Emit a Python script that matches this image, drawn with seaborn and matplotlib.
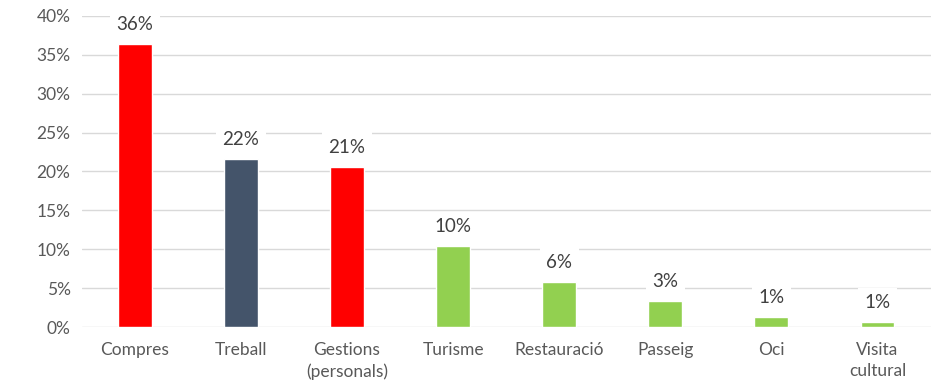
import pandas as pd
import matplotlib.pyplot as plt
import seaborn as sns
from matplotlib.ticker import FuncFormatter

# ---- dades ----
categories = ["Compres", "Treball", "Gestions\n(personals)", "Turisme",
              "Restauració", "Passeig", "Oci", "Visita\ncultural"]
values = [36.4, 21.6, 20.6, 10.4, 5.8, 3.3, 1.3, 0.6]
labels = ["36%", "22%", "21%", "10%", "6%", "3%", "1%", "1%"]
colors = ["#FF0000", "#44546A", "#FF0000", "#92D050",
          "#92D050", "#92D050", "#92D050", "#92D050"]

df = pd.DataFrame({"cat": categories, "val": values})

sns.set_theme(style="white")
plt.rcParams["font.family"] = ["Lato", "DejaVu Sans"]

fig = plt.figure(figsize=(9.39, 3.88), dpi=100)
ax = fig.add_axes([0.087, 0.157, 0.904, 0.802])

sns.barplot(data=df, x="cat", y="val", hue="cat", palette=colors,
            legend=False, width=0.32, saturation=1, ax=ax)

ax.set_ylim(0, 40)
ax.set_yticks(range(0, 41, 5))
ax.yaxis.set_major_formatter(FuncFormatter(lambda v, _: f"{v:.0f}%"))
ax.set_xlim(-0.5, len(categories) - 0.5)
ax.grid(axis="y", color="#d9d9d9", linewidth=1)
ax.set_axisbelow(True)
for s in ax.spines.values():
    s.set_visible(False)
ax.set_xlabel("")
ax.set_ylabel("")
ax.tick_params(axis="both", length=0, labelsize=12.5, colors="#595959")
ax.tick_params(axis="x", pad=11)
ax.tick_params(axis="y", pad=8)
for t in ax.get_xticklabels():
    t.set_linespacing(1.35)

# etiquetes de dades amb fons blanc
for i, (v, t) in enumerate(zip(values, labels)):
    ax.annotate(t, (i, v), xytext=(0, 8), textcoords="offset points",
                ha="center", va="bottom", fontsize=13.5, color="#404040",
                bbox=dict(boxstyle="square,pad=0.35", fc="white", ec="none"))

fig.savefig("out.png", dpi=100)
